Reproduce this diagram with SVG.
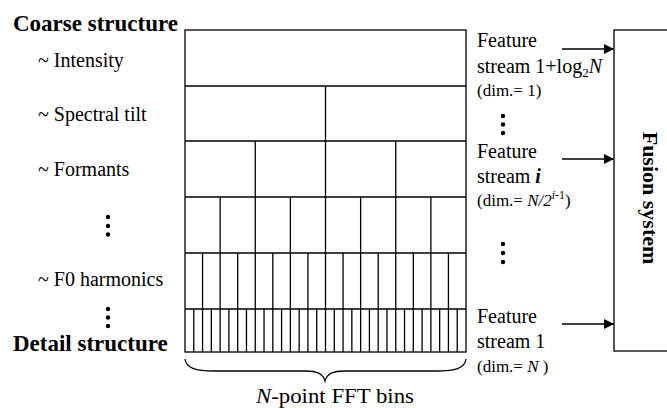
<svg xmlns="http://www.w3.org/2000/svg" width="667" height="408" viewBox="0 0 667 408">
<style>
text{font-family:"Liberation Serif","Times New Roman",serif;fill:#000}
.lbl{font-size:20px}
.bold{font-size:23px;font-weight:bold}
.fs{font-size:20px}
.dim{font-size:17px}
.g{fill:none;stroke:#000;stroke-width:1.3}
.ln{stroke:#000;stroke-width:1.3;fill:none}
.it{font-style:italic}
</style>
<defs>
<marker id="ah" viewBox="0 0 10 10" refX="10" refY="5" markerWidth="10" markerHeight="10" markerUnits="userSpaceOnUse" orient="auto">
<path d="M0,0 L10,5 L0,10 Z" fill="#000"/>
</marker>
</defs>
<g id="labels-left">
<text class="bold" x="13" y="31">Coarse structure</text>
<text class="lbl" x="38" y="67">~ Intensity</text>
<text class="lbl" x="38" y="121">~ Spectral tilt</text>
<text class="lbl" x="38" y="176">~ Formants</text>
<circle cx="108" cy="217" r="2.2"/><circle cx="108" cy="226" r="2.2"/><circle cx="108" cy="234.5" r="2.2"/>
<text class="lbl" x="38" y="286">~ F0 harmonics</text>
<circle cx="108" cy="309" r="2.2"/><circle cx="108" cy="317.5" r="2.2"/><circle cx="108" cy="326" r="2.2"/>
<text class="bold" x="13" y="351">Detail structure</text>
</g>
<g id="fft-grid">
<rect class="g" x="185" y="30" width="281" height="322"/>
<path class="ln" d="M185,86H466M185,141H466M185,197H466M185,253H466M185,309H466"/>
<path class="ln" d="M325.5,86V141"/>
<path class="ln" d="M255.25,141V197M325.5,141V197M395.75,141V197"/>
<path class="ln" d="M220.13,197V253M255.25,197V253M290.38,197V253M325.5,197V253M360.63,197V253M395.75,197V253M430.88,197V253"/>
<path class="ln" d="M202.56,253V309M220.13,253V309M237.69,253V309M255.25,253V309M272.81,253V309M290.38,253V309M307.94,253V309M325.5,253V309M343.06,253V309M360.63,253V309M378.19,253V309M395.75,253V309M413.31,253V309M430.88,253V309M448.44,253V309"/>
<path class="ln" d="M193.78,309V352M202.56,309V352M211.34,309V352M220.13,309V352M228.91,309V352M237.69,309V352M246.47,309V352M255.25,309V352M264.03,309V352M272.81,309V352M281.59,309V352M290.38,309V352M299.16,309V352M307.94,309V352M316.72,309V352M325.5,309V352M334.28,309V352M343.06,309V352M351.84,309V352M360.63,309V352M369.41,309V352M378.19,309V352M386.97,309V352M395.75,309V352M404.53,309V352M413.31,309V352M422.09,309V352M430.88,309V352M439.66,309V352M448.44,309V352M457.22,309V352"/>
<path class="ln" d="M185,359 C186,368 195,371 215,371 L305,371 C318,371 323,374 325,381 C327,374 332,371 345,371 L436,371 C456,371 465,368 466,359"/>
<text x="256" y="403" font-size="22" textLength="158" lengthAdjust="spacingAndGlyphs"><tspan class="it">N</tspan>-point FFT bins</text>
</g>
<g id="stream-top">
<text class="fs" x="477" y="47">Feature</text>
<text class="fs" x="477" y="73">stream 1+log<tspan font-size="13" dy="4">2</tspan><tspan class="it" dy="-4">N</tspan></text>
<text class="dim" x="477" y="96">(dim.= 1)</text>
</g>
<g id="dots-right">
<circle cx="503" cy="116" r="2.2"/><circle cx="503" cy="124.5" r="2.2"/><circle cx="503" cy="133" r="2.2"/>
<circle cx="503" cy="244" r="2.2"/><circle cx="503" cy="253" r="2.2"/><circle cx="503" cy="262" r="2.2"/>
</g>
<g id="stream-i">
<text class="fs" x="477" y="158">Feature</text>
<text class="fs" x="477" y="183">stream <tspan font-style="italic" font-weight="bold">i</tspan></text>
<text class="dim" x="477" y="206">(dim.= <tspan class="it">N/2</tspan><tspan class="it" font-size="12" dy="-7">i</tspan><tspan font-size="12">-1</tspan><tspan dy="7">)</tspan></text>
</g>
<g id="stream-1">
<text class="fs" x="477" y="323">Feature</text>
<text class="fs" x="477" y="348">stream 1</text>
<text class="dim" x="477" y="372">(dim.= <tspan class="it">N</tspan> )</text>
</g>
<g id="fusion-system">
<rect class="g" x="614" y="30" width="70" height="321"/>
<text font-size="22" font-weight="bold" text-anchor="middle" transform="translate(643,198) rotate(90)">Fusion system</text>
</g>
<g id="connectors">
<line class="ln" x1="562" y1="49" x2="614" y2="49" marker-end="url(#ah)"/>
<line class="ln" x1="562" y1="159" x2="614" y2="159" marker-end="url(#ah)"/>
<line class="ln" x1="562" y1="324" x2="614" y2="324" marker-end="url(#ah)"/>
</g>
</svg>
